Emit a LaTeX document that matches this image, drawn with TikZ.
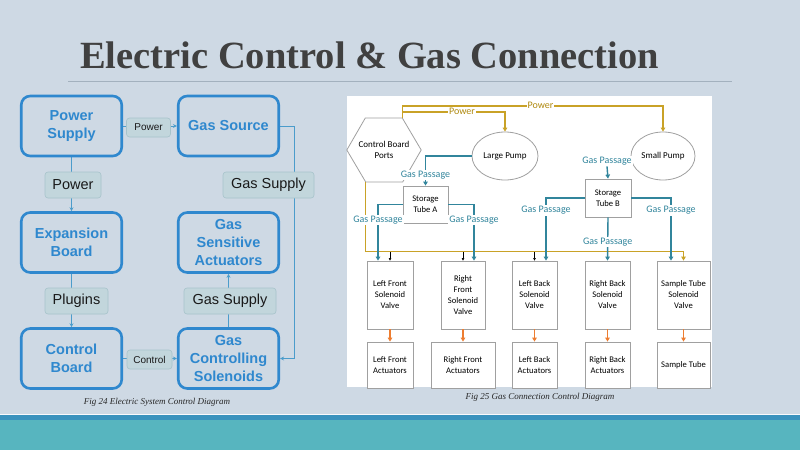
\documentclass[tikz,border=0pt]{standalone}
\usepackage{fontspec}
\setmainfont{Liberation Serif}
\newfontfamily\lsans{Liberation Sans}
\newfontfamily\carl{Carlito}
\usetikzlibrary{shapes.geometric,arrows.meta,calc,backgrounds}
\definecolor{bgc}{HTML}{CED9E4}
\definecolor{bblue}{HTML}{2F88CE}
\definecolor{lcol}{HTML}{4B9CCB}
\definecolor{labf}{HTML}{C2D6DC}
\definecolor{labd}{HTML}{A7C3CB}
\definecolor{tealc}{HTML}{31859C}
\definecolor{goldc}{HTML}{C9A227}
\definecolor{goldt}{HTML}{B08A10}
\definecolor{orng}{HTML}{ED7D31}
\definecolor{gry}{HTML}{A0A0A0}
\definecolor{bandb}{HTML}{3A92BD}
\definecolor{bandt}{HTML}{57B5BF}
\definecolor{titc}{HTML}{404040}
\definecolor{rulec}{HTML}{A3B1BE}
\tikzset{
 bbox/.style={draw=bblue, line width=2.6pt, rounded corners=9pt, minimum width=100.5pt, minimum height=60pt, align=center, text=bblue, inner sep=0pt, font=\lsans\bfseries\fontsize{14.5}{18}\selectfont},
 lab/.style={draw=labd, fill=labf, rounded corners=3pt, line width=0.6pt, text=black!90, inner sep=0pt, font=\lsans\fontsize{14.5}{17}\selectfont},
 slab/.style={lab, font=\lsans\fontsize{10}{12}\selectfont},
 lc/.style={draw=lcol, line width=1pt},
 lca/.style={lc, -{Stealth[length=4pt,width=4pt]}},
 gbox/.style={draw=gry, fill=white, line width=0.8pt, align=center, inner sep=1pt, font=\carl\fontsize{8.6}{11}\selectfont},
 hexnode/.style={minimum width=74pt, minimum height=64pt, inner sep=0pt, align=center, font=\carl\fontsize{9}{11}\selectfont},
 hexline/.style={draw=gry, line width=0.8pt},
 ell/.style={ellipse, draw=gry, fill=white, line width=0.8pt, inner sep=0pt, minimum height=48pt, font=\carl\fontsize{9}{10}\selectfont},
 gp/.style={draw=tealc, line width=1.4pt},
 gpa/.style={gp, -{Triangle[length=4pt,width=4.5pt]}},
 pwr/.style={draw=goldc, line width=1.4pt},
 pwra/.style={pwr, -{Triangle[length=4pt,width=4.5pt]}},
 gl/.style={fill=white, text=tealc, inner sep=1pt, font=\carl\fontsize{10}{11}\selectfont},
 pl/.style={fill=white, text=goldt, inner sep=1pt, font=\carl\fontsize{10}{11}\selectfont},
 oa/.style={draw=orng, line width=1.3pt, -{Triangle[length=4pt,width=4.5pt]}},
 ba/.style={draw=black, line width=0.5pt, -{Triangle[length=2.5pt,width=2.5pt]}},
 capt/.style={anchor=base, inner sep=0pt, text=black!85, font=\itshape\fontsize{9}{10}\selectfont},
}
\begin{document}
\begin{tikzpicture}[x=1pt,y=-1pt]
\useasboundingbox (0,0) rectangle (800,450);
\begin{scope}[on background layer]
\fill[bgc] (0,0) rectangle (800,450);
\fill[white!88!bgc] (0,414) rectangle (800,415);
\fill[bandb] (0,415) rectangle (800,420);
\fill[bandt] (0,420) rectangle (800,450);
\fill[white] (347,96) rectangle (712,387);
\end{scope}
% title
\node[anchor=base west, inner sep=0pt, text=titc, font=\bfseries\fontsize{38.5}{40}\selectfont] (title) at (80,68) {Electric Control \& Gas Connection};
\draw[rulec, line width=0.8pt] (68,81) -- (732,81);
% left diagram
\node[bbox] (ps) at (71.5,126) {Power\\Supply};
\node[bbox] (gs) at (228.5,126) {Gas Source};
\node[bbox] (eb) at (71.5,242.5) {Expansion\\Board};
\node[bbox] (gsa) at (228.5,242.5) {Gas\\Sensitive\\Actuators};
\node[bbox] (cb) at (71.5,358.5) {Control\\Board};
\node[bbox] (gcs) at (228.5,358.5) {Gas\\Controlling\\Solenoids};
\node[slab, minimum width=44pt, minimum height=19pt] (pw1) at (148.5,127.5) {Power};
\node[lab, minimum width=56pt, minimum height=26pt] (pw2) at (73,185) {Power};
\node[lab, minimum width=91pt, minimum height=26pt] (gsup1) at (268.5,185) {Gas Supply};
\node[lab, minimum width=63pt, minimum height=26pt] (plug) at (76.5,301) {Plugins};
\node[lab, minimum width=92pt, minimum height=26pt] (gsup2) at (230,301) {Gas Supply};
\node[slab, minimum width=45pt, minimum height=19pt] (ctl) at (149.5,359.5) {Control};
\begin{scope}[on background layer]
\draw[lc] (ps.south) -- (ps.south |- pw2.north);
\draw[lca] (ps.south |- pw2.south) -- (eb.north);
\draw[lc] (eb.south) -- (eb.south |- plug.north);
\draw[lca] (eb.south |- plug.south) -- (cb.north);
\draw[lc] (ps.east) -- (ps.east -| pw1.west);
\draw[lca] (pw1.east |- ps.east) -- (gs.west);
\draw[lc] (cb.east) -- (cb.east -| ctl.west);
\draw[lca] (ctl.east |- cb.east) -- (gcs.west);
\draw[lc] (gcs.north) -- (gcs.north |- gsup2.south);
\draw[lca] (gcs.north |- gsup2.north) -- (gsa.south);
\draw[lca] (gs.east) -- ++(14,0) |- (gcs.east);
\end{scope}
\node[capt] (cap1) at (157,404) {Fig 24 Electric System Control Diagram};
% right diagram
\node[hexnode] (hex) at (384,150) {Control Board\\Ports};
\draw[hexline] (hex.west) -- ++(18.5,-32) -- ++(37,0) -- (hex.east) -- ++(-18.5,32) -- ++(-37,0) -- cycle;
\node[ell, minimum width=66pt] (lp) at (505,156) {Large Pump};
\node[ell, minimum width=64pt] (sp) at (663,156) {Small Pump};
\node[gbox, minimum width=45pt, minimum height=37pt] (ta) at (425.5,204.5) {Storage\\Tube A};
\node[gbox, minimum width=46pt, minimum height=38pt] (tb) at (608,198) {Storage\\Tube B};
\node[gbox, minimum width=46pt, minimum height=68pt] (lfv) at (390,295) {Left Front\\Solenoid\\Valve};
\node[gbox, minimum width=44pt, minimum height=68pt] (rfv) at (463,295) {Right\\Front\\Solenoid\\Valve};
\node[gbox, minimum width=45pt, minimum height=68pt] (lbv) at (534.5,295) {Left Back\\Solenoid\\Valve};
\node[gbox, minimum width=45pt, minimum height=68pt] (rbv) at (607.5,295) {Right Back\\Solenoid\\Valve};
\node[gbox, minimum width=53pt, minimum height=68pt] (stv) at (683.5,295) {Sample Tube\\Solenoid\\Valve};
\node[gbox, minimum width=46pt, minimum height=46pt] (lfa) at (390,365) {Left Front\\Actuators};
\node[gbox, minimum width=64pt, minimum height=46pt] (rfa) at (463,365) {Right Front\\Actuators};
\node[gbox, minimum width=45pt, minimum height=46pt] (lba) at (534.5,365) {Left Back\\Actuators};
\node[gbox, minimum width=45pt, minimum height=46pt] (rba) at (607.5,365) {Right Back\\Actuators};
\node[gbox, minimum width=53pt, minimum height=46pt] (sta) at (683.5,365) {Sample Tube};
\node[gl] (gpin) at (607,161) {Gas Passage};
\coordinate (bus) at (0,252);
% power
\draw[pwra] ($(hex.north)+(18.5,0)$) -- ++(0,-12) -| node[pl,pos=0.265]{Power} (sp.north);
\draw[pwra] ($(hex.north)+(18.5,-6)$) -| node[pl,pos=0.29]{Power} (lp.north);
\draw[pwra] ($(hex.south)+(-18.5,0)$) |- ($(stv.north)+(0,-9)$) -- (stv.north);
% black control arrows
\draw[ba] (lfv.north |- bus) -- (lfv.north);
\draw[ba] (rfv.north |- bus) -- (rfv.north);
\draw[ba] (lbv.north |- bus) -- (lbv.north);
% gas
\draw[gpa] (lp.west) -| node[gl,pos=0.82]{Gas Passage} (ta.north);
\draw[gpa] (ta.west) -| node[gl,pos=0.64]{Gas Passage} ($(lfv.north)+(-12,0)$);
\draw[gpa] (ta.east) -| node[gl,pos=0.64]{Gas Passage} ($(rfv.north)+(11,0)$);
\draw[gpa] (gpin.south) -- (tb.north);
\draw[gpa] (tb.west) -| node[gl,pos=0.6]{Gas Passage} ($(lbv.north)+(11.5,0)$);
\draw[gpa] (tb.east) -| node[gl,pos=0.6]{Gas Passage} ($(stv.north)+(-12.5,0)$);
\draw[gpa] (tb.south) -- node[gl,pos=0.57]{Gas Passage} (rbv.north);
% orange
\draw[oa] (lfv.south) -- (lfa.north);
\draw[oa] (rfv.south) -- (rfa.north);
\draw[oa] (lbv.south) -- (lba.north);
\draw[oa] (rbv.south) -- (rba.north);
\draw[oa] (stv.south) -- (sta.north);
\node[capt] (cap2) at (540,399) {Fig 25 Gas Connection Control Diagram};
\end{tikzpicture}
\end{document}
